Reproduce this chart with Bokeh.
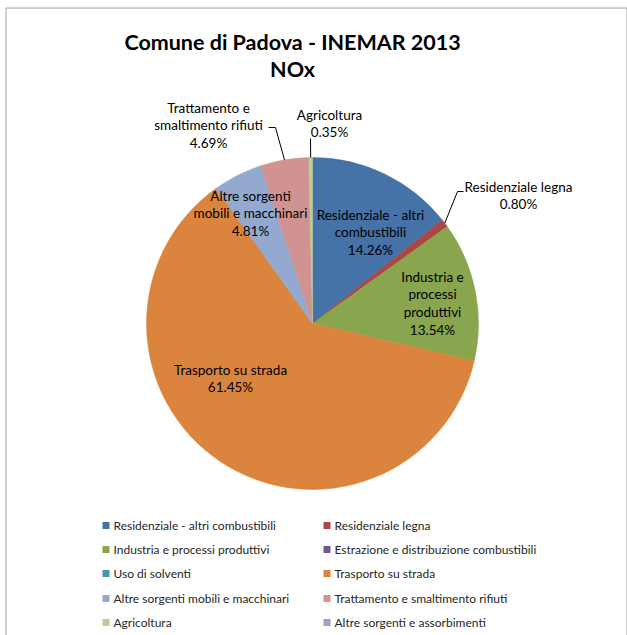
import math
from bokeh.plotting import figure
from bokeh.models import Range1d, ColumnDataSource
from bokeh.core.properties import value
from bokeh.embed import file_html
from bokeh.resources import INLINE

# ---------------- data ----------------
categories = [
    "Residenziale - altri  combustibili",
    "Residenziale legna",
    "Industria e  processi produttivi",
    "Estrazione e distribuzione combustibili",
    "Uso di solventi",
    "Trasporto su strada",
    "Altre sorgenti mobili  e macchinari",
    "Trattamento  e smaltimento  rifiuti",
    "Agricoltura",
    "Altre sorgenti e assorbimenti",
]
shares = [14.26, 0.80, 13.54, 0.0, 0.0, 61.45, 4.81, 4.69, 0.35, 0.0]
slice_labels = [
    ["Residenziale - altri", "combustibili"],
    ["Residenziale legna"],
    ["Industria e", "processi", "produttivi"],
    None,
    None,
    ["Trasporto su strada"],
    ["Altre sorgenti", "mobili e macchinari"],
    ["Trattamento e", "smaltimento rifiuti"],
    ["Agricoltura"],
    None,
]
colors = ["#4572A7", "#AA4643", "#89A54E", "#71588F", "#4198AF",
          "#DB843D", "#93A9CF", "#D19392", "#B9CD96", "#A99BBD"]
title_lines = ["Comune di Padova - INEMAR 2013", "NOx"]

# ---------------- layout (page pixel coords) ----------------
W, H = 627, 635
def X(px): return px
def Y(py): return H - py

CX, CY, R = 312, 323, 166
FONT = "Lato"
label_pos = {0: (370, 214), 1: (518, 186), 2: (432, 276), 5: (230, 369),
             6: (250, 195), 7: (208, 107), 8: (329, 114)}
leaders = {1: [(463, 191), (457, 191)], 7: [(268, 127), (275, 127)], 8: [(310, 138)]}
LINE_H = 17.7

p = figure(width=W, height=H, output_backend="svg", toolbar_location=None,
           x_range=Range1d(0, W), y_range=Range1d(0, H),
           x_axis_location=None, y_axis_location=None, min_border=0)
p.grid.visible = False
p.outline_line_color = None
p.background_fill_color = "white"

# chart border
p.quad(left=[X(5.5)], right=[X(626.5)], top=[Y(7.5)], bottom=[Y(H + 5)],
       fill_color=None, line_color="#A0A0A0", line_width=1)

total = sum(shares)
starts, ends, mids, cols = [], [], [], []
cum = 0.0
for s, c in zip(shares, colors):
    a0 = math.pi / 2 - 2 * math.pi * cum / total
    cum += s
    a1 = math.pi / 2 - 2 * math.pi * cum / total
    mids.append((a0 + a1) / 2)
    if s > 0:
        starts.append(a0); ends.append(a1); cols.append(c)

src = ColumnDataSource(dict(start=starts, end=ends, color=cols))
p.wedge(x=X(CX), y=Y(CY), radius=R, start_angle="start", end_angle="end",
        direction="clock", fill_color="color", line_color="color", line_width=0.5, source=src)

# data labels
lx, ly, lt = [], [], []
for i, lab in enumerate(slice_labels):
    if lab is None:
        continue
    lines = lab + [f"{shares[i]:.2f}%"]
    px, py = label_pos[i]
    for k, t in enumerate(lines):
        lx.append(X(px)); ly.append(Y(py + k * LINE_H)); lt.append(t)
p.text(x=lx, y=ly, text=lt, text_align="center", text_baseline="middle",
       text_font=value(FONT), text_font_size="13.5px", text_color="#000000")

# leader lines
for i, pts in leaders.items():
    ex = CX + R * math.cos(mids[i])
    ey = CY - R * math.sin(mids[i])
    xs = [X(a) for a, b in pts] + [X(ex)]
    ys = [Y(b) for a, b in pts] + [Y(ey)]
    p.line(xs, ys, line_color="#000000", line_width=1)

# title
p.text(x=[X(292), X(292)], y=[Y(41), Y(68)], text=title_lines, text_align="center",
       text_baseline="middle", text_font=value(FONT), text_font_style="bold",
       text_font_size="21.5px", text_color="#000000")

# legend (2 columns)
col_x = [102, 323]
row_y = [525, 549, 573, 598, 622]
sq_x, sq_y, tx, ty = [], [], [], []
for i, c in enumerate(categories):
    cx = col_x[i % 2]; ry = row_y[i // 2]
    sq_x.append(X(cx + 3.5)); sq_y.append(Y(ry))
    tx.append(X(cx + 11)); ty.append(Y(ry))
p.rect(x=sq_x, y=sq_y, width=7, height=7, fill_color=colors, line_color=None)
p.text(x=tx, y=ty, text=categories, text_align="left", text_baseline="middle",
       text_font=value(FONT), text_font_size="12px", text_color="#262626")

open("out.html", "w").write(file_html(p, INLINE))
